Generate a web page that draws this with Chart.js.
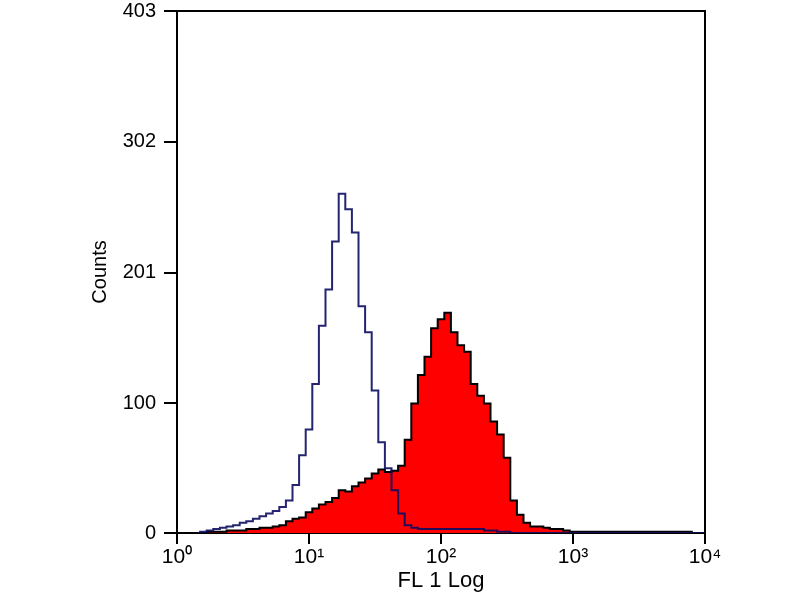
<!DOCTYPE html>
<html>
<head>
<meta charset="utf-8">
<script src="https://cdn.jsdelivr.net/npm/chart.js@4/dist/chart.umd.min.js"></script>
<style>
  body { margin: 0; background: #fff; }
</style>
</head>
<body>
<canvas id="fcsChart" width="800" height="600"></canvas>
<script>
// channel positions in decades (log10 of FL1)
var channels = [0.15, 0.20, 0.25, 0.30, 0.35, 0.40, 0.45, 0.50, 0.55, 0.60,
                0.65, 0.70, 0.75, 0.80, 0.85, 0.90, 0.95, 1.00, 1.05, 1.10,
                1.15, 1.20, 1.25, 1.30, 1.35, 1.40, 1.45, 1.50, 1.55, 1.60,
                1.65, 1.70, 1.75, 1.80, 1.85, 1.90, 1.95, 2.00, 2.05, 2.10,
                2.15, 2.20, 2.25, 2.30, 2.35, 2.40, 2.45, 2.50, 2.55, 2.60,
                2.65, 2.70, 2.75, 2.80, 2.85, 2.90, 2.95, 3.00, 3.20, 3.40,
                3.60, 3.80, 4.00];

// stained sample (red filled)
var stainedCounts = [0, 0, 1, 1, 1, 2, 2, 2, 3, 3,
                     4, 4, 5, 6, 9, 11, 12, 16, 19, 22,
                     24, 27, 33, 32, 36, 39, 42, 46, 49, 47,
                     48, 52, 72, 100, 122, 136, 158, 165, 170, 155,
                     145, 140, 115, 106, 100, 86, 76, 58, 25, 14,
                     8, 5, 5, 4, 3, 3, 2, 1, 1, 1,
                     1, 1, 0];

// isotype control (blue outline)
var controlCounts = [0, 1, 2, 3, 4, 5, 6, 8, 9, 11,
                     13, 15, 17, 20, 25, 37, 60, 80, 115, 160,
                     188, 225, 262, 250, 232, 175, 155, 110, 70, 50,
                     33, 15, 6, 4, 3, 3, 3, 3, 3, 3,
                     3, 3, 3, 3, 2, 2, 1, 1, 0, 0,
                     0, 0, 0, 0, 0, 0, 0, 0, 0, 0,
                     0, 0, 0];

var yTicks = [0, 100, 201, 302, 403];
var xTickLabels = ['10\u2070', '10\u00b9', '10\u00b2', '10\u00b3', '10\u2074'];

function toPoints(values) {
    return channels.map(function (c, i) { return { x: c, y: values[i] }; });
}

// draw the top and right edge of the plot frame
var frameBox = {
    id: 'frameBox',
    afterDraw: function (chart) {
        var a = chart.chartArea;
        var ctx = chart.ctx;
        ctx.save();
        ctx.strokeStyle = '#000';
        ctx.lineWidth = 2;
        ctx.beginPath();
        ctx.moveTo(a.left, a.top);
        ctx.lineTo(a.right, a.top);
        ctx.lineTo(a.right, a.bottom);
        ctx.stroke();
        ctx.restore();
    }
};

var ctx = document.getElementById('fcsChart').getContext('2d');
var chart = new Chart(ctx, {
    type: 'line',
    data: {
        datasets: [{
            label: 'Control',
            data: toPoints(controlCounts),
            borderColor: 'rgba(12, 12, 96, 0.9)',
            borderWidth: 2,
            fill: false,
            stepped: 'middle',
            pointRadius: 0,
            order: 0
        }, {
            label: 'Stained',
            data: toPoints(stainedCounts),
            borderColor: '#000000',
            backgroundColor: '#ff0000',
            borderWidth: 2,
            fill: 'origin',
            stepped: 'middle',
            pointRadius: 0,
            order: 1
        }]
    },
    options: {
        responsive: false,
        animation: false,
        devicePixelRatio: 1,
        layout: { padding: { left: 0, right: 95, top: 11, bottom: 0 } },
        plugins: {
            legend: { display: false },
            tooltip: { enabled: false }
        },
        scales: {
            x: {
                type: 'linear',
                min: 0,
                max: 4,
                afterFit: function (scale) { scale.height = 67; },
                border: { color: '#000', width: 2 },
                grid: { drawOnChartArea: false, drawTicks: true, tickLength: 11, color: '#000', lineWidth: 2 },
                ticks: {
                    stepSize: 1,
                    padding: 1,
                    color: '#000',
                    maxRotation: 0,
                    font: { family: 'Liberation Sans, Arial, sans-serif', size: 21 },
                    callback: function (value) { return xTickLabels[value]; }
                },
                title: {
                    display: true,
                    text: 'FL 1 Log',
                    color: '#000',
                    font: { family: 'Liberation Sans, Arial, sans-serif', size: 22 },
                    padding: { top: 0, bottom: 6 }
                }
            },
            y: {
                min: 0,
                max: 403,
                afterFit: function (scale) {
                    scale.width = 177;
                    scale.paddingTop = 0;
                    scale.paddingBottom = 0;
                },
                afterBuildTicks: function (scale) {
                    scale.ticks = yTicks.map(function (v) { return { value: v }; });
                },
                border: { color: '#000', width: 2 },
                grid: { drawOnChartArea: false, drawTicks: true, tickLength: 13, color: '#000', lineWidth: 2 },
                ticks: {
                    padding: 8,
                    color: '#000',
                    font: { family: 'Liberation Sans, Arial, sans-serif', size: 20 }
                },
                title: {
                    display: true,
                    text: 'Counts',
                    color: '#000',
                    font: { family: 'Liberation Sans, Arial, sans-serif', size: 20 },
                    padding: { top: 88, bottom: 0 }
                }
            }
        }
    },
    plugins: [frameBox]
});
</script>
</body>
</html>
